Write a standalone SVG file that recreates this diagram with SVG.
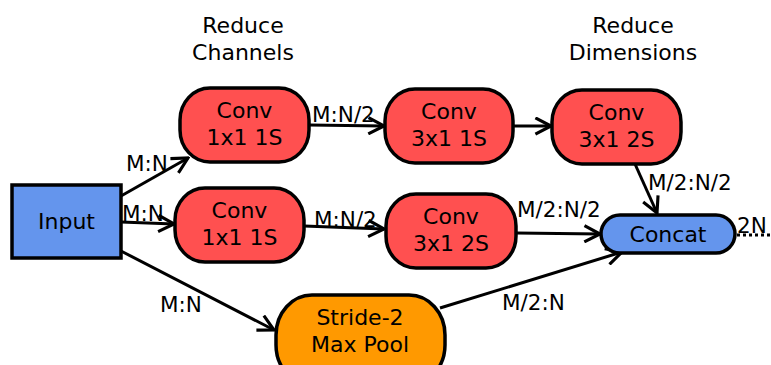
<svg xmlns="http://www.w3.org/2000/svg" width="771" height="365" viewBox="0 0 771 365">
<style>
text{font-family:"DejaVu Sans",sans-serif;font-size:21.5px;fill:#000}
.c{text-anchor:middle;font-size:22px}
.n{stroke:#000;stroke-width:3.5}
.red{fill:#ff5050}
.blue{fill:#6495ed}
.orange{fill:#ff9900}
.e{stroke:#000;stroke-width:3;fill:none;marker-end:url(#arr)}
</style>
<defs>
<marker id="arr" viewBox="0 0 14 14" refX="12.5" refY="7" markerWidth="19" markerHeight="19" markerUnits="userSpaceOnUse" orient="auto">
<path d="M1,1 L12.5,7 L1,13" fill="none" stroke="#000" stroke-width="2.3"/>
</marker>
</defs>
<g id="headers">
<text class="c" x="243" y="33">Reduce</text>
<text class="c" x="243" y="60">Channels</text>
<text class="c" x="633" y="33">Reduce</text>
<text class="c" x="633" y="60">Dimensions</text>
</g>
<g id="connectors">
<line class="e" x1="121" y1="196" x2="188" y2="158"/>
<line class="e" x1="121" y1="222" x2="174" y2="224"/>
<line class="e" x1="121" y1="251" x2="274" y2="330"/>
<line class="e" x1="309" y1="125" x2="384" y2="126"/>
<line class="e" x1="304" y1="226" x2="384" y2="229"/>
<line class="e" x1="513" y1="126" x2="551" y2="126"/>
<line class="e" x1="635" y1="164" x2="657" y2="213"/>
<line class="e" x1="516" y1="233" x2="600" y2="234"/>
<line class="e" x1="440" y1="308" x2="622" y2="252"/>
<line x1="737" y1="235" x2="771" y2="235" stroke="#000" stroke-width="3" stroke-dasharray="3,3"/>
<text x="126" y="171">M:N</text>
<text x="122" y="221">M:N</text>
<text x="160" y="312">M:N</text>
<text x="312" y="122">M:N/2</text>
<text x="314" y="227">M:N/2</text>
<text x="517" y="217">M/2:N/2</text>
<text x="648" y="190">M/2:N/2</text>
<text x="502" y="310">M/2:N</text>
<text x="737" y="233">2N</text>
</g>
<g id="input">
<rect class="n blue" x="12" y="185" width="109" height="73"/>
<text class="c" x="66.5" y="229">Input</text>
</g>
<g id="conv1">
<rect class="n red" x="180" y="88" width="129" height="74" rx="30" ry="32"/>
<text class="c" x="244.5" y="118">Conv</text>
<text class="c" x="244.5" y="145">1x1 1S</text>
</g>
<g id="conv2">
<rect class="n red" x="175" y="188" width="129" height="74" rx="30" ry="32"/>
<text class="c" x="239.5" y="218">Conv</text>
<text class="c" x="239.5" y="245">1x1 1S</text>
</g>
<g id="conv3">
<rect class="n red" x="385" y="89" width="128" height="74" rx="30" ry="32"/>
<text class="c" x="449" y="119">Conv</text>
<text class="c" x="449" y="146">3x1 1S</text>
</g>
<g id="conv4">
<rect class="n red" x="552" y="90" width="129" height="74" rx="30" ry="32"/>
<text class="c" x="616.5" y="120">Conv</text>
<text class="c" x="616.5" y="147">3x1 2S</text>
</g>
<g id="conv5">
<rect class="n red" x="386" y="194" width="130" height="74" rx="30" ry="32"/>
<text class="c" x="451" y="224">Conv</text>
<text class="c" x="451" y="251">3x1 2S</text>
</g>
<g id="concat">
<rect class="n blue" x="601" y="215" width="134" height="38" rx="19" ry="19"/>
<text class="c" x="668" y="242">Concat</text>
</g>
<g id="pool">
<rect class="n orange" x="276" y="295" width="169" height="90" rx="36" ry="40"/>
<text class="c" x="360" y="325">Stride-2</text>
<text class="c" x="360" y="352">Max Pool</text>
</g>
</svg>
